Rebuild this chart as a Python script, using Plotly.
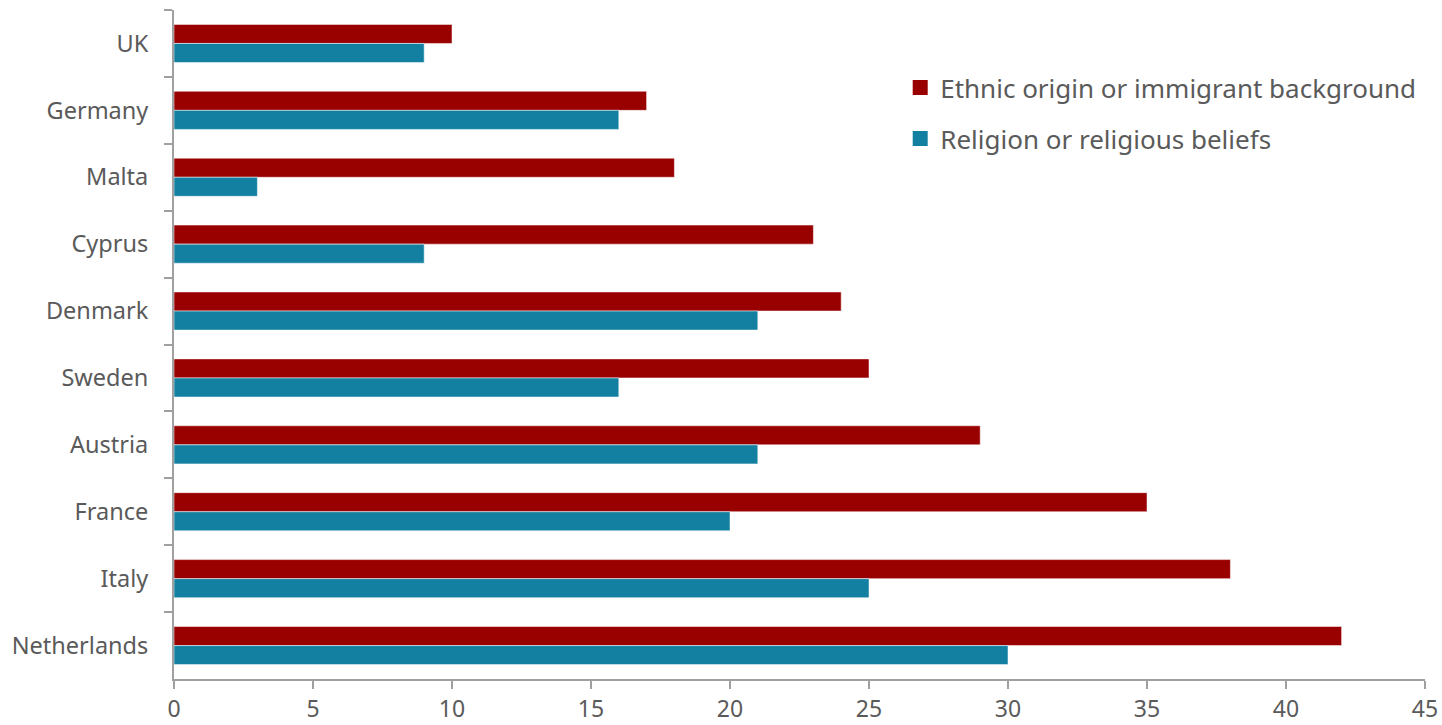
import plotly.graph_objects as go

countries = ["UK", "Germany", "Malta", "Cyprus", "Denmark", "Sweden",
             "Austria", "France", "Italy", "Netherlands"]
ethnic = [10, 17, 18, 23, 24, 25, 29, 35, 38, 42]
religion = [9, 16, 3, 9, 21, 16, 21, 20, 25, 30]
series_names = ["Ethnic origin or immigrant background", "Religion or religious beliefs"]
x_ticks = [0, 5, 10, 15, 20, 25, 30, 35, 40, 45]

RED = "#990000"
TEAL = "#1380A1"
TXT = "#5a5a5a"
AX = "#a0a0a0"

fig = go.Figure()
for vals, name, col in [(ethnic, series_names[0], RED), (religion, series_names[1], TEAL)]:
    fig.add_trace(go.Bar(y=countries, x=vals, orientation="h", name=name,
                         showlegend=False,
                         marker=dict(color=col, line=dict(color="rgba(255,255,255,0.5)", width=1))))
# legend entries with larger square swatches
for i, (name, col) in enumerate([(series_names[0], RED), (series_names[1], TEAL)]):
    fig.add_trace(go.Scatter(x=[None], y=[None], mode="markers", name=name,
                             legendgroup=f"g{i}",
                             marker=dict(symbol="square", size=15, color=col)))

fig.update_layout(
    width=1442, height=725,
    barmode="group", bargap=0.43, bargroupgap=0,
    plot_bgcolor="white", paper_bgcolor="white",
    margin=dict(l=174, r=17, t=10, b=46, autoexpand=False),
    font=dict(family="Noto Sans", color=TXT, size=23.5),
    legend=dict(x=0.5805, y=0.919, xanchor="left", yanchor="top",
                font=dict(size=26, color=TXT), itemwidth=30,
                traceorder="grouped", tracegroupgap=14,
                bgcolor="rgba(0,0,0,0)"),
    showlegend=True,
)
fig.update_xaxes(range=[0, 45], tickvals=x_ticks, showgrid=False, zeroline=False,
                 showline=True, linecolor=AX, linewidth=2, automargin=False,
                 ticks="outside", ticklen=8, tickcolor=AX, tickwidth=1.5,
                 tickfont=dict(size=23, color=TXT), ticklabelstandoff=0)
fig.update_yaxes(autorange="reversed", showgrid=False, zeroline=False,
                 showline=True, linecolor=AX, linewidth=2, automargin=False,
                 ticks="outside", ticklen=8, tickcolor=AX, tickwidth=1.5,
                 tickson="boundaries",
                 tickfont=dict(size=23.5, color=TXT), ticklabelstandoff=19)

fig.write_html("out.html",
               config={"displayModeBar": False},
               post_script="document.body.style.margin='0';document.body.style.overflow='hidden';")
